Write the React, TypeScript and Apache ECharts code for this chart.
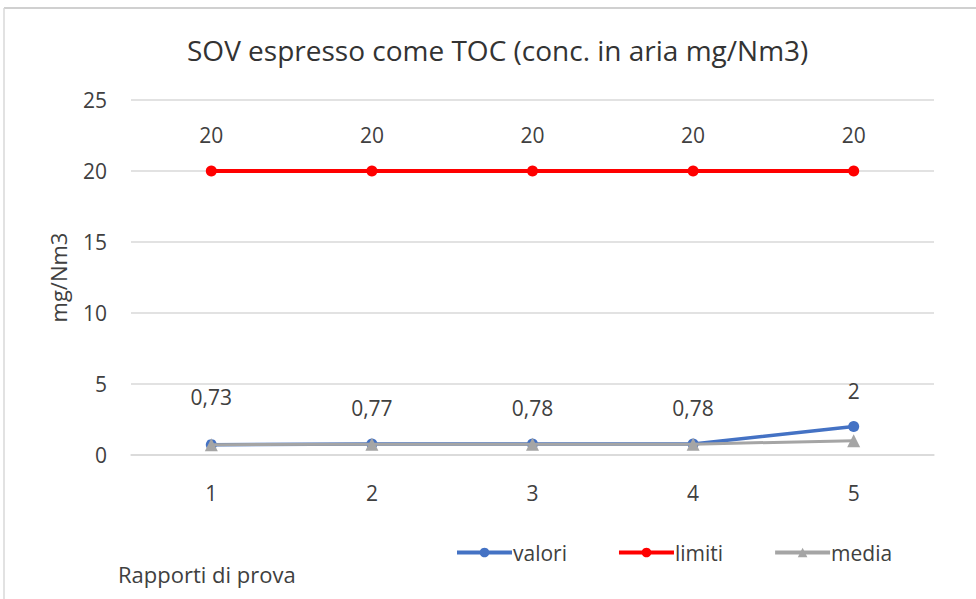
import React, { useEffect, useRef } from "react";
import * as echarts from "echarts";

const categories = ["1", "2", "3", "4", "5"];
const valori = [0.73, 0.77, 0.78, 0.78, 2];
const limiti = [20, 20, 20, 20, 20];
const media = [0.73, 0.75, 0.76, 0.765, 1.01];
const yTicks = { min: 0, max: 25, interval: 5 };

const FONT = "'Open Sans', 'Noto Sans', sans-serif";
const TXT = "#404040";

export default function App() {
  const ref = useRef<HTMLDivElement>(null);
  useEffect(() => {
    if (!ref.current) return;
    const chart = echarts.init(ref.current, undefined, { renderer: "svg" });
    chart.setOption({
      animation: false,
      backgroundColor: "#ffffff",
      textStyle: { fontFamily: FONT },
      title: {
        text: "SOV espresso come TOC (conc. in aria mg/Nm3)",
        left: 182,
        top: 31,
        textStyle: { fontFamily: FONT, fontSize: 28, fontWeight: "normal", color: "#333" },
      },
      graphic: [
        { type: "line", shape: { x1: 4, y1: 8, x2: 976, y2: 8 }, style: { stroke: "#d0d0d0", lineWidth: 2 } },
        { type: "line", shape: { x1: 4, y1: 8, x2: 4, y2: 599 }, style: { stroke: "#d9d9d9", lineWidth: 1.5 } },
        {
          type: "text",
          left: 118,
          top: 563,
          style: { text: "Rapporti di prova", fontFamily: FONT, fontSize: 22, fill: TXT },
        },
      ],
      legend: {
        top: 537,
        left: 450,
        itemGap: 50,
        itemWidth: 55,
        itemHeight: 12,
        lineStyle: { width: 4 },
        textStyle: { fontFamily: FONT, fontSize: 21, color: TXT, padding: [0, 0, 0, -4] },
        data: ["valori", "limiti", "media"],
      },
      grid: { left: 131, right: 42, top: 100, bottom: 144, containLabel: false },
      xAxis: {
        type: "category",
        data: categories,
        boundaryGap: true,
        axisLine: { show: true, lineStyle: { color: "#d9d9d9", width: 1.5 } },
        axisTick: { show: false },
        axisLabel: { fontFamily: FONT, fontSize: 21, color: TXT, margin: 27 },
      },
      yAxis: {
        type: "value",
        min: yTicks.min,
        max: yTicks.max,
        interval: yTicks.interval,
        name: "mg/Nm3",
        nameLocation: "middle",
        nameGap: 62,
        nameTextStyle: { fontFamily: FONT, fontSize: 22, color: TXT },
        axisLine: { show: false },
        axisTick: { show: false },
        axisLabel: { fontFamily: FONT, fontSize: 21, color: TXT, margin: 24 },
        splitLine: { lineStyle: { color: "#d9d9d9", width: 1.5 } },
      },
      series: [
        {
          name: "valori",
          type: "line",
          data: valori.map((v, i) => (i === 0 ? { value: v, label: { offset: [0, -12] } } : v)),
          color: "#4472c4",
          lineStyle: { width: 3.5, color: "#4472c4" },
          symbol: "circle",
          symbolSize: 11,
          itemStyle: { color: "#4472c4" },
          z: 3,
          label: {
            show: true,
            position: "top",
            distance: 20,
            fontFamily: FONT,
            fontSize: 21,
            color: TXT,
            formatter: (p: any) => String(p.value).replace(".", ","),
          },
        },
        {
          name: "limiti",
          type: "line",
          data: limiti,
          color: "#ff0000",
          lineStyle: { width: 4, color: "#ff0000" },
          symbol: "circle",
          symbolSize: 11,
          itemStyle: { color: "#ff0000" },
          label: {
            show: true,
            position: "top",
            distance: 20,
            fontFamily: FONT,
            fontSize: 21,
            color: TXT,
          },
        },
        {
          name: "media",
          type: "line",
          data: media,
          color: "#a5a5a5",
          lineStyle: { width: 3, color: "#a5a5a5" },
          symbol: "triangle",
          symbolSize: 13,
          itemStyle: { color: "#a5a5a5" },
          z: 4,
        },
      ],
    });
    return () => chart.dispose();
  }, []);
  return (
    <div
      ref={ref}
      style={{ position: "absolute", left: 0, top: 0, width: 976, height: 599 }}
    />
  );
}
